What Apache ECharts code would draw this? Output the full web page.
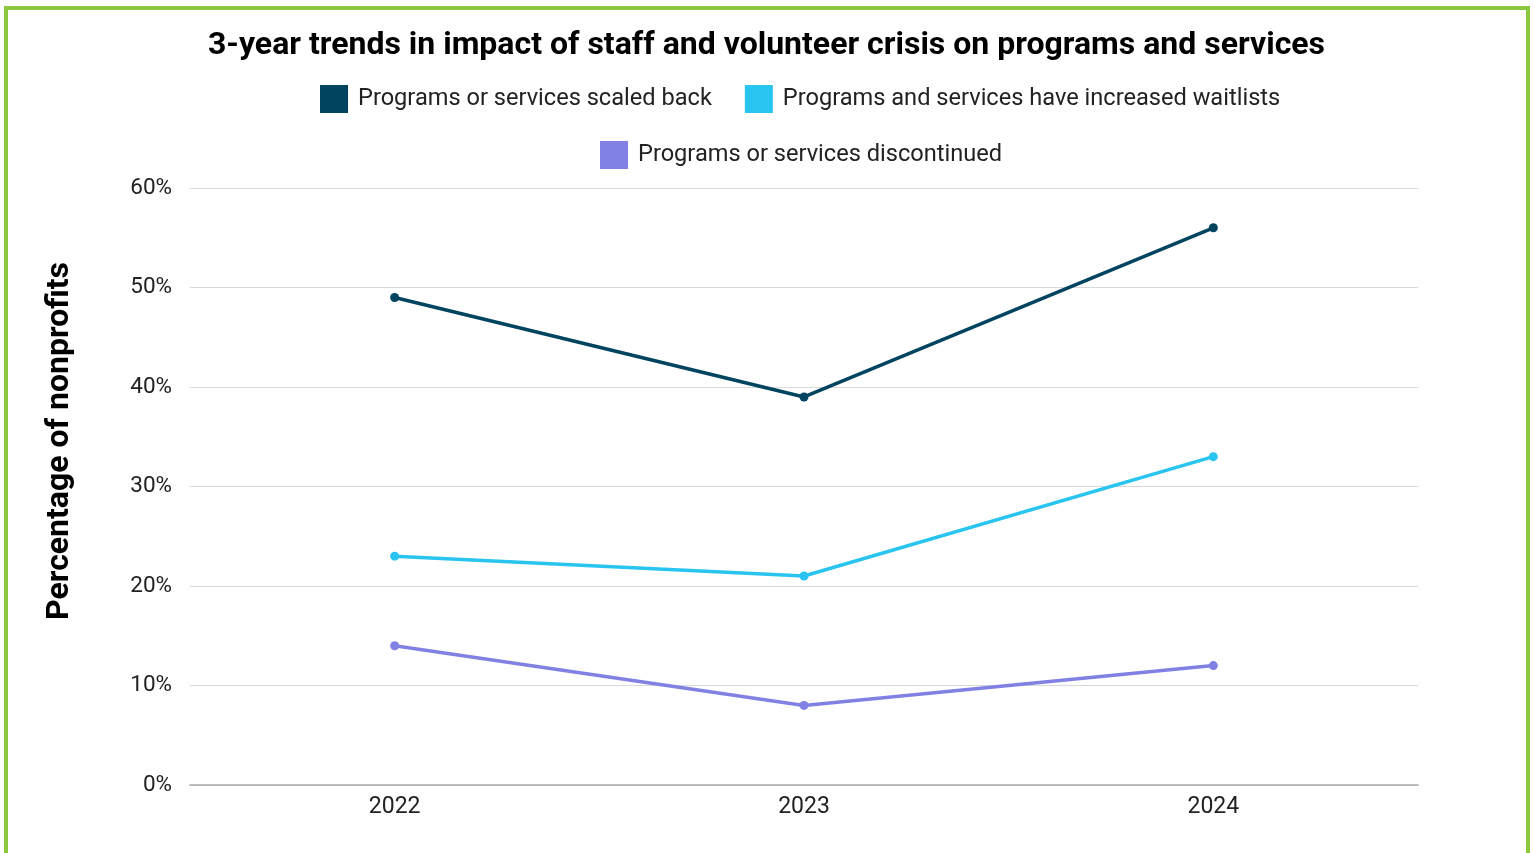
<!DOCTYPE html>
<html>
<head>
<meta charset="utf-8">
<script src="https://cdn.jsdelivr.net/npm/echarts@6/dist/echarts.min.js"></script>
<style>
html,body{margin:0;padding:0;background:#fff;overflow:hidden;}
#frame{position:absolute;left:4px;top:6px;width:1518px;height:900px;border:4px solid #8dc63f;box-sizing:content-box;}
#chart{position:absolute;left:0;top:0;width:1533px;height:853px;}
</style>
</head>
<body>
<div id="frame"></div>
<div id="chart"></div>
<script>
const title = '3-year trends in impact of staff and volunteer crisis on programs and services';
const yAxisTitle = 'Percentage of nonprofits';
const years = ['2022', '2023', '2024'];
const seriesNames = ['Programs or services scaled back', 'Programs and services have increased waitlists', 'Programs or services discontinued'];
const scaledBack = [49, 39, 56];
const waitlists = [23, 21, 33];
const discontinued = [14, 8, 12];
const colors = ['#00445f', '#29c5f0', '#8181e4'];

const chart = echarts.init(document.getElementById('chart'));
const font = 'Roboto, sans-serif';
const legendCommon = {
  icon: 'rect', itemWidth: 28, itemHeight: 28, itemGap: 33,
  textStyle: {fontFamily: font, fontSize: 23.6, color: '#222', padding: [0, 0, 0, 5]},
  selectedMode: false
};
const mk = (name, data, color) => ({
  name, type: 'line', data, color,
  symbol: 'circle', symbolSize: 9,
  lineStyle: {width: 3.5, color}, itemStyle: {color},
  z: 3
});
chart.setOption({
  animation: false,
  title: {text: title, left: 'center', top: 25,
    textStyle: {fontFamily: font, fontSize: 32, fontWeight: 'bold', color: '#000'}},
  legend: [
    Object.assign({data: seriesNames.slice(0, 2), left: 315, top: 80}, legendCommon),
    Object.assign({data: seriesNames.slice(2), left: 595, top: 136}, legendCommon)
  ],
  grid: {left: 190, right: 115, top: 188, bottom: 68, containLabel: false},
  xAxis: {
    type: 'category', data: years, boundaryGap: true,
    axisLine: {lineStyle: {color: '#aaa', width: 1.5}},
    axisTick: {show: false},
    axisLabel: {fontFamily: font, fontSize: 23, color: '#222', margin: 11}
  },
  yAxis: {
    type: 'value', min: 0, max: 60, interval: 10,
    axisLine: {show: false}, axisTick: {show: false},
    splitLine: {lineStyle: {color: '#d9d9d9', width: 1}},
    axisLabel: {fontFamily: font, fontSize: 22.5, color: '#222', margin: 18, formatter: v => v + '%'}
  },
  graphic: [{
    type: 'text',
    rotation: Math.PI / 2,
    x: 60, y: 441,
    style: {text: yAxisTitle, fontFamily: font, fontSize: 32, fontWeight: 'bold', fill: '#000',
      textAlign: 'center', textVerticalAlign: 'middle'}
  }],
  series: [
    mk(seriesNames[0], scaledBack, colors[0]),
    mk(seriesNames[1], waitlists, colors[1]),
    mk(seriesNames[2], discontinued, colors[2])
  ]
});
</script>
</body>
</html>
